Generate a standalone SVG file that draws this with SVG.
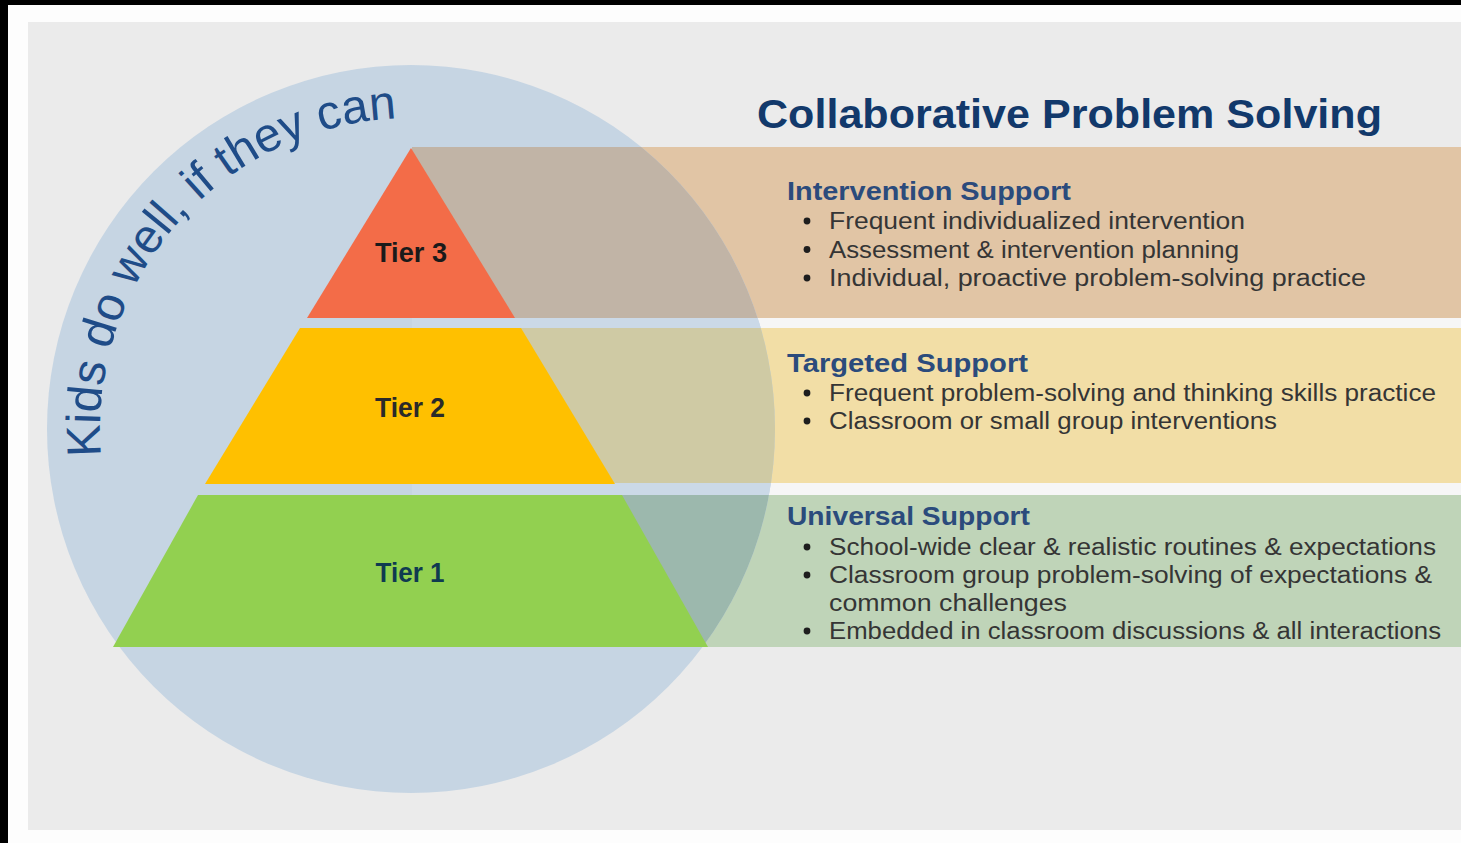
<svg xmlns="http://www.w3.org/2000/svg" width="1461" height="843" viewBox="0 0 1461 843">
  <defs>
    <clipPath id="circ"><circle cx="411" cy="429" r="364"/></clipPath>
    <path id="arc" d="M 101.2 456.1 A 311 311 0 0 1 566.5 159.7"/>
  </defs>
  <style>
    .title{font-family:"Liberation Sans",Arial,sans-serif;font-weight:bold;font-size:40px;fill:#12396b}
    .head{font-family:"Liberation Sans",Arial,sans-serif;font-weight:bold;font-size:26px;fill:#2b4b7c}
    .item{font-family:"Liberation Sans",Arial,sans-serif;font-size:23px;fill:#353535}
    .tier{font-family:"Liberation Sans",Arial,sans-serif;font-weight:bold;font-size:28px;text-anchor:middle}
    .arcText{font-family:"Liberation Sans",Arial,sans-serif;font-size:48px;fill:#1f4c88}
    .dot{fill:#1e1e1e}
  </style>

  <!-- frame and background -->
  <rect x="0" y="0" width="1461" height="843" fill="#000"/>
  <rect x="8" y="5" width="1453" height="838" fill="#fdfdfd"/>
  <rect x="28" y="22" width="1433" height="808" fill="#ebebeb"/>

  <!-- bands (outside circle) -->
  <g id="bands">
    <rect x="412" y="147" width="1049" height="171" fill="#e1c5a5"/>
    <rect x="412" y="318" width="1049" height="10" fill="#f6f6f6"/>
    <rect x="412" y="328" width="1049" height="155" fill="#f2dea6"/>
    <rect x="412" y="483" width="1049" height="12" fill="#f6f6f6"/>
    <rect x="412" y="495" width="1049" height="152" fill="#bfd4b8"/>
  </g>

  <!-- circle -->
  <g id="circle">
    <circle cx="411" cy="429" r="364" fill="#c6d5e3"/>
    <g clip-path="url(#circ)">
      <rect x="412" y="147" width="1049" height="171" fill="#c1b4a6"/>
      <rect x="412" y="318" width="1049" height="10" fill="#cbd9e7"/>
      <rect x="412" y="328" width="1049" height="155" fill="#cfcaa4"/>
      <rect x="412" y="483" width="1049" height="12" fill="#cbd9e7"/>
      <rect x="412" y="495" width="1049" height="152" fill="#9cb8ad"/>
    </g>
  </g>

  <!-- curved motto, one word per text so each keeps a tight box -->
  <g id="motto">
    <text class="arcText"><textPath href="#arc" startOffset="0">Kids</textPath></text>
    <text class="arcText"><textPath href="#arc" startOffset="106.7">do</textPath></text>
    <text class="arcText"><textPath href="#arc" startOffset="173.4">well,</textPath></text>
    <text class="arcText"><textPath href="#arc" startOffset="282.7">if</textPath></text>
    <text class="arcText"><textPath href="#arc" startOffset="320">they</textPath></text>
    <text class="arcText"><textPath href="#arc" startOffset="424">can</textPath></text>
  </g>

  <!-- pyramid -->
  <g id="tier3">
    <polygon points="411,148 515,318 307,318" fill="#f36c48"/>
    <text class="tier" x="411" y="262" fill="#1a1a1a" textLength="72" lengthAdjust="spacingAndGlyphs">Tier 3</text>
  </g>
  <g id="tier2">
    <polygon points="300,328 521,328 615,484 205,484" fill="#ffc000"/>
    <text class="tier" x="410" y="417" fill="#2a2a2a" textLength="70" lengthAdjust="spacingAndGlyphs">Tier 2</text>
  </g>
  <g id="tier1">
    <polygon points="198,495 622,495 708,647 113,647" fill="#92d050"/>
    <text class="tier" x="410" y="582" fill="#0f3a50" textLength="69" lengthAdjust="spacingAndGlyphs">Tier 1</text>
  </g>

  <!-- title -->
  <g id="title">
    <text class="title" x="757" y="128" textLength="625" lengthAdjust="spacingAndGlyphs">Collaborative Problem Solving</text>
  </g>

  <!-- intervention support -->
  <g id="intervention">
    <text class="head" x="787" y="200" textLength="284" lengthAdjust="spacingAndGlyphs">Intervention Support</text>
    <circle class="dot" cx="807" cy="221" r="3.4"/>
    <text class="item" x="829" y="229" fill="#3a302c" textLength="416" lengthAdjust="spacingAndGlyphs">Frequent individualized intervention</text>
    <circle class="dot" cx="807" cy="249.5" r="3.4"/>
    <text class="item" x="829" y="257.5" fill="#3a302c" textLength="410" lengthAdjust="spacingAndGlyphs">Assessment &amp; intervention planning</text>
    <circle class="dot" cx="807" cy="278" r="3.4"/>
    <text class="item" x="829" y="286" fill="#3a302c" textLength="537" lengthAdjust="spacingAndGlyphs">Individual, proactive problem-solving practice</text>
  </g>

  <!-- targeted support -->
  <g id="targeted">
    <text class="head" x="787" y="372" textLength="241" lengthAdjust="spacingAndGlyphs">Targeted Support</text>
    <circle class="dot" cx="807" cy="393" r="3.4"/>
    <text class="item" x="829" y="401" fill="#3b372c" textLength="607" lengthAdjust="spacingAndGlyphs">Frequent problem-solving and thinking skills practice</text>
    <circle class="dot" cx="807" cy="421" r="3.4"/>
    <text class="item" x="829" y="429" fill="#3b372c" textLength="448" lengthAdjust="spacingAndGlyphs">Classroom or small group interventions</text>
  </g>

  <!-- universal support -->
  <g id="universal">
    <text class="head" x="787" y="525" fill="#1f4f8c" textLength="243" lengthAdjust="spacingAndGlyphs">Universal Support</text>
    <circle class="dot" cx="807" cy="547" r="3.4"/>
    <text class="item" x="829" y="555" fill="#2e382e" textLength="607" lengthAdjust="spacingAndGlyphs">School-wide clear &amp; realistic routines &amp; expectations</text>
    <circle class="dot" cx="807" cy="575" r="3.4"/>
    <text class="item" x="829" y="583" fill="#2e382e" textLength="603" lengthAdjust="spacingAndGlyphs">Classroom group problem-solving of expectations &amp;</text>
    <text class="item" x="829" y="611" fill="#2e382e" textLength="238" lengthAdjust="spacingAndGlyphs">common challenges</text>
    <circle class="dot" cx="807" cy="631" r="3.4"/>
    <text class="item" x="829" y="639" fill="#2e382e" textLength="612" lengthAdjust="spacingAndGlyphs">Embedded in classroom discussions &amp; all interactions</text>
  </g>

  <g id="connectors"/>
</svg>
